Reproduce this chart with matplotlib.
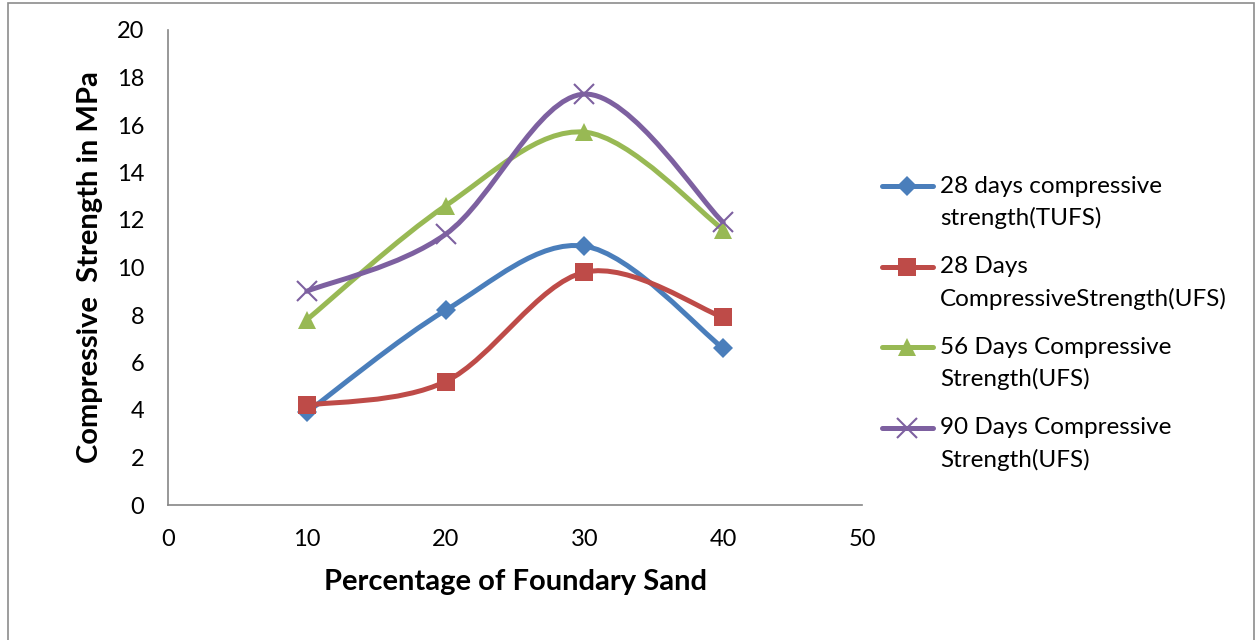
import numpy as np
import matplotlib
matplotlib.use("Agg")
from matplotlib import pyplot as plt
from matplotlib.path import Path
from matplotlib.patches import PathPatch, Rectangle
from matplotlib.lines import Line2D

plt.rcParams['font.family'] = ['Lato', 'DejaVu Sans']

# percentage of foundry sand
pct = [10, 20, 30, 40]

tufs_28 = [3.9, 8.2, 10.9, 6.6]
ufs_28 = [4.2, 5.2, 9.8, 7.9]
ufs_56 = [7.8, 12.6, 15.7, 11.6]
ufs_90 = [9.0, 11.4, 17.3, 11.9]

labels = ["28 days compressive\nstrength(TUFS)",
          "28 Days\nCompressiveStrength(UFS)",
          "56 Days Compressive\nStrength(UFS)",
          "90 Days Compressive\nStrength(UFS)"]
colors = ["#4a7ebb", "#be4b48", "#98b954", "#7d60a0"]
markers = ["D", "s", "^", "x"]
msizes = [10, 13, 13, 14]


def smooth_path(x, y):
    # excel-style smoothed line: cubic bezier segments, 1/6 tangent rule
    p = np.column_stack([x, y]).astype(float)
    n = len(p)
    verts = [p[0]]
    codes = [Path.MOVETO]
    for i in range(n - 1):
        p0 = p[i - 1] if i > 0 else p[i]
        p3 = p[i + 2] if i + 2 < n else p[i + 1]
        c1 = p[i] + (p[i + 1] - p0) / 6
        c2 = p[i + 1] - (p3 - p[i]) / 6
        verts += [c1, c2, p[i + 1]]
        codes += [Path.CURVE4] * 3
    return Path(verts, codes)


W, H = 1255, 640
fig = plt.figure(figsize=(W / 100, H / 100), dpi=100)
ax = fig.add_axes([168 / W, 1 - 505 / H, (862 - 168) / W, (505 - 30) / H])

series = [tufs_28, ufs_28, ufs_56, ufs_90]
for s, c, m, ms in zip(series, colors, markers, msizes):
    patch = PathPatch(smooth_path(pct, s), facecolor="none", edgecolor=c, lw=3.6,
                      capstyle="round", joinstyle="round")
    ax.add_patch(patch)
    mew = 1.5 if m == "x" else 0
    ax.plot(pct, s, ls="none", marker=m, ms=ms, color=c, mew=mew)

ax.set_xlim(0, 50)
ax.set_ylim(0, 20)
ax.set_xticks(range(0, 51, 10))
ax.set_yticks(range(0, 21, 2))
ax.tick_params(length=0, labelsize=17, pad=17)
for side in ["top", "right"]:
    ax.spines[side].set_visible(False)
for side in ["left", "bottom"]:
    ax.spines[side].set_color("#868686")
    ax.spines[side].set_linewidth(1.2)

ax.set_xlabel("Percentage of Foundary Sand", fontsize=21, fontweight="bold", labelpad=14)
ax.set_ylabel("Compressive  Strength in MPa", fontsize=21, fontweight="bold", labelpad=10)

# legend drawn by hand: swatch lines up with the first line of each label
top, pitch, gap = 186, 80.5, 33
for i, (lab, c, m, ms) in enumerate(zip(labels, colors, markers, msizes)):
    y = 1 - (top + i * pitch) / H
    mew = 1.5 if m == "x" else 0
    fig.add_artist(Line2D([882 / W, 933 / W], [y, y], transform=fig.transFigure,
                          color=c, lw=3.6, solid_capstyle="round"))
    fig.add_artist(Line2D([907 / W], [y], transform=fig.transFigure, ls="none",
                          marker=m, ms=ms, color=c, mew=mew))
    fig.text(940 / W, 1 - (top + i * pitch + gap / 2) / H, lab, fontsize=17.5,
             va="center", ha="left", linespacing=1.6)

# outer chart border
fig.patches.append(Rectangle((8 / W, -0.01), (1254 - 8) / W, 1 - 3 / H + 0.01,
                             transform=fig.transFigure, fill=False,
                             edgecolor="#8c8c8c", lw=1.2))

fig.savefig("out.png", dpi=100, facecolor="white")
